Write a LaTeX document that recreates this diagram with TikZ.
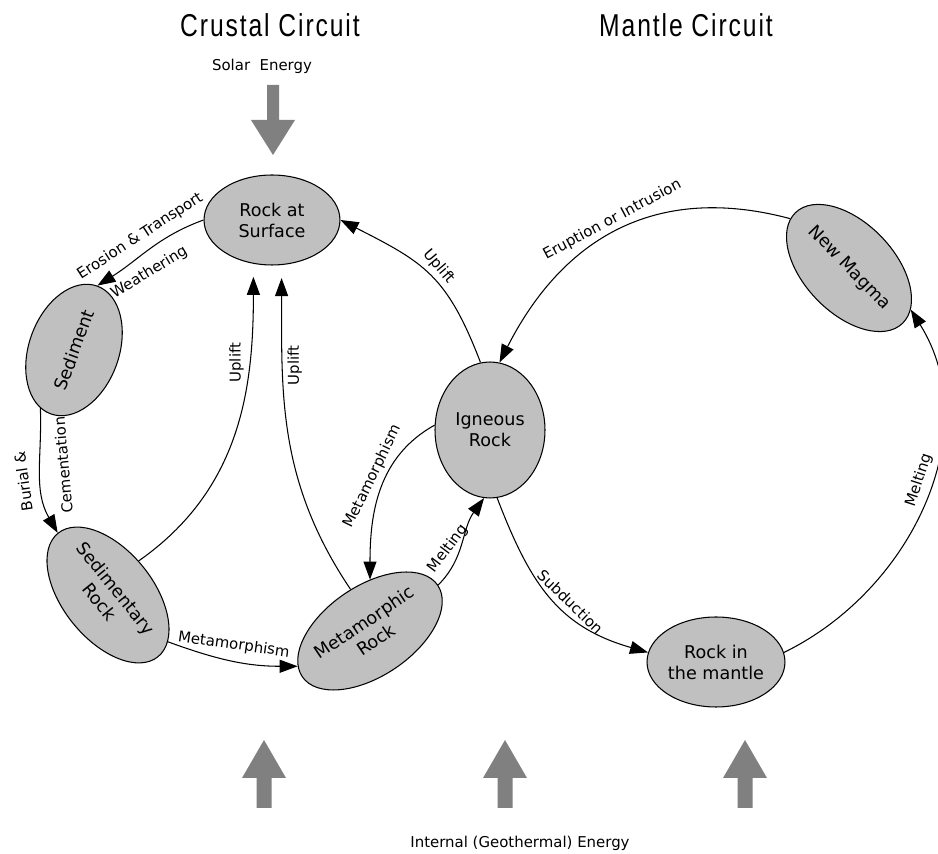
\documentclass[tikz,border=0pt]{standalone}
\usepackage{fontspec}
\usepackage{xcolor}
\usepackage{tikz}
\usetikzlibrary{arrows.meta, shapes.geometric}

\definecolor{rockgray}{HTML}{C0C0C0}
\definecolor{arrowgray}{HTML}{808080}
\newfontfamily\nodefont{DejaVu Sans}
\newfontfamily\titlefont[FakeStretch=0.78, LetterSpace=6]{Liberation Sans}

\begin{document}
\begin{tikzpicture}[x=0.02cm, y=0.02cm,
    rock/.style={ellipse, draw, fill=rockgray, line width=0.6pt, inner sep=0pt, minimum width=2.72cm, minimum height=1.8cm, align=center, font=\nodefont\fontsize{10}{12}\selectfont},
    flow/.style={-{Triangle[length=0.36cm, width=0.26cm]}, line width=0.6pt},
    lbl/.style={font=\nodefont\fontsize{8.5}{10}\selectfont, inner sep=2.5pt},
    title/.style={font=\titlefont\fontsize{18}{20}\selectfont},
    energy/.style={fill=arrowgray, draw=none}
]
\useasboundingbox (0,0) rectangle (938,-854);

\node[title] (crust) at (270,-25) {Crustal Circuit};
\node[title] (mantle) at (686,-25) {Mantle Circuit};
\node[lbl] (solar) at (262,-66) {Solar\ \ Energy};
\node[lbl] (internal) at (520,-843) {Internal (Geothermal) Energy};

% energy arrows
\fill[energy] (273,-155) -- (295,-120) -- (279,-120) -- (279,-85) -- (267,-85) -- (267,-120) -- (251,-120) -- cycle;
\foreach \ax in {264,505,745}
  \fill[energy] (\ax,-740) -- (\ax+22,-778) -- (\ax+7.5,-778) -- (\ax+7.5,-808) -- (\ax-7.5,-808) -- (\ax-7.5,-778) -- (\ax-22,-778) -- cycle;

% rocks
\node[rock] (surf) at (272,-220) {Rock at\\Surface};
\node[rock, rotate=70] (sed) at (74,-350) {Sediment};
\node[rock, rotate=-51] (sedr) at (108,-595) {Sedimentary\\Rock};
\node[rock, rotate=34] (meta) at (370,-631) {Metamorphic\\Rock};
\node[rock, minimum width=2.2cm, minimum height=2.72cm] (ign) at (490,-430) {Igneous\\Rock};
\node[rock, rotate=-46] (mag) at (849,-268) {New Magma};
\node[rock, minimum width=2.76cm] (mant) at (716,-662) {Rock in\\the mantle};

% crustal circuit
\draw[flow] (surf.west) to[out=200, in=32]
  node[lbl, pos=0.5, rotate=33, above=2pt] {Erosion \& Transport}
  node[lbl, pos=0.6, rotate=31, below=4pt] {Weathering} (sed.east);
\draw[flow] (sed.170) to[out=-88, in=120]
  node[lbl, pos=0.55, rotate=98, above=4pt] {Burial \&}
  node[lbl, pos=0.45, rotate=95, below=7pt] {Cementation} (sedr.west);
\draw[flow] (sedr.13) to[out=-20, in=180]
  node[lbl, pos=0.5, rotate=-8, above=2pt] {Metamorphism} (meta.172);
\draw[flow, shorten >=0.26cm] (sedr.99) to[out=35, in=-90]
  node[lbl, pos=0.72, rotate=90, above] {Uplift} (surf.247);
\draw[flow, shorten >=0.26cm] (meta.81) to[out=124, in=-90]
  node[lbl, pos=0.72, rotate=90, below] {Uplift} (surf.282);
\draw[flow] (ign.175) to[out=209, in=90]
  node[lbl, pos=0.45, rotate=64, above] {Metamorphism} (meta.56);
\draw[flow] (meta.east) to[out=45, in=234]
  node[lbl, pos=0.35, rotate=53, above] {Melting} (ign.265);
\draw[flow] (ign.98) to[out=111, in=-27, looseness=1.2]
  node[lbl, pos=0.5, rotate=-50, above] {Uplift} (surf.east);

% mantle circuit
\draw[flow] (mag.186) to[out=165, in=63, looseness=1.1]
  node[lbl, pos=0.5, rotate=28, above] {Eruption or Intrusion} (ign.82);
\draw[flow] (ign.276) to[out=-69, in=164, looseness=1.1]
  node[lbl, pos=0.58, rotate=-44, above] {Subduction} (mant.172);
\draw[flow] (mant.8) to[out=26, in=-58]
  node[lbl, pos=0.55, rotate=72, above] {Melting} (mag.12);

\end{tikzpicture}
\end{document}
